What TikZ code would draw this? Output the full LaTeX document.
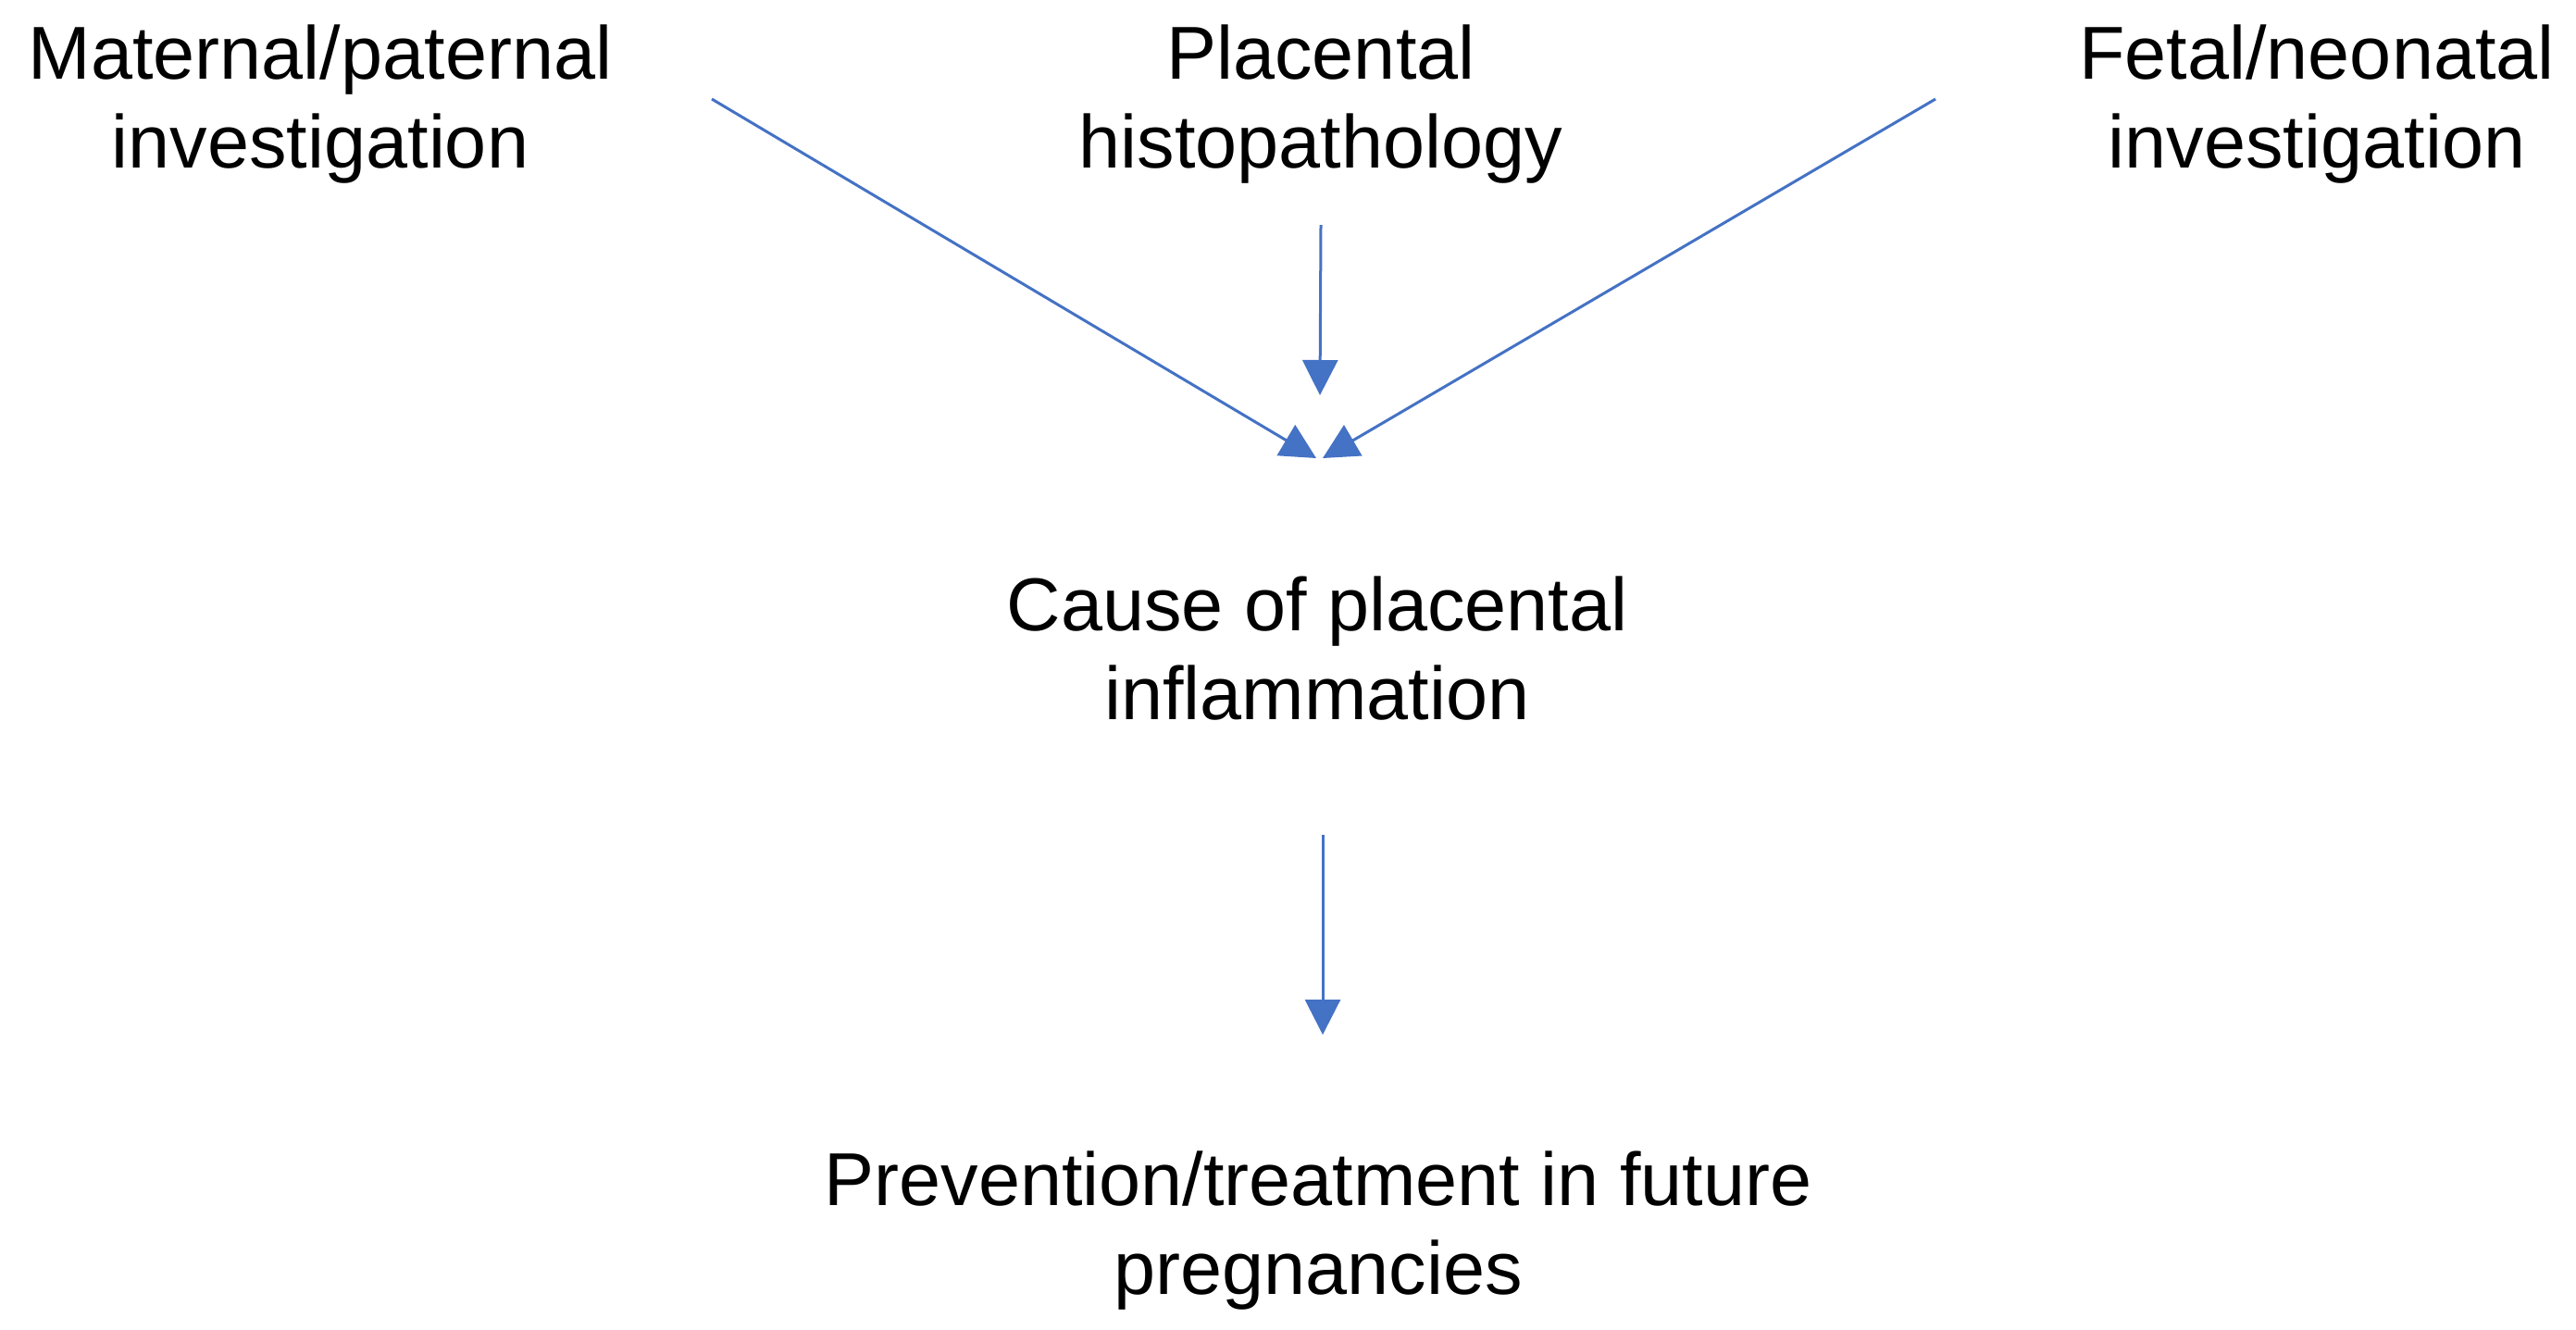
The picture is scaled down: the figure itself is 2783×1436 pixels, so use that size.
\documentclass[tikz,border=0pt]{standalone}
\usepackage{fontspec}
\setmainfont{Liberation Sans}
\usetikzlibrary{arrows.meta}
\definecolor{arrowblue}{HTML}{4472C4}
\begin{document}
\begin{tikzpicture}[x=1pt,y=-1pt,
  lbl/.style={align=center,inner sep=0pt,font=\fontsize{81}{96}\selectfont},
  conn/.style={draw=arrowblue,line width=3pt,-{Triangle[width=38pt,length=38pt]},fill=arrowblue}]
\useasboundingbox (0,0) rectangle (2783,1436);
\node[lbl] (mat) at (346,113) {Maternal/paternal\\investigation};
\node[lbl] (pla) at (1427,113) {Placental\\histopathology};
\node[lbl] (fet) at (2503,113) {Fetal/neonatal\\investigation};
\node[lbl] (cau) at (1423,701) {Cause of placental\\inflammation};
\node[lbl] (pre) at (1424,1330) {Prevention/treatment in future\\pregnancies};
\coordinate (matout) at (769,107);
\coordinate (plaout) at (1427,243);
\coordinate (fetout) at (2091,107);
\coordinate (cauinL) at (1422,495);
\coordinate (cauinR) at (1429,495);
\coordinate (cauinT) at (1426,427);
\coordinate (cauout) at (1429,902);
\coordinate (prein) at (1429,1118);
\draw[conn] (matout) -- (cauinL);
\draw[conn] (fetout) -- (cauinR);
\draw[conn] (plaout) -- (cauinT);
\draw[conn] (cauout) -- (prein);
\end{tikzpicture}
\end{document}
